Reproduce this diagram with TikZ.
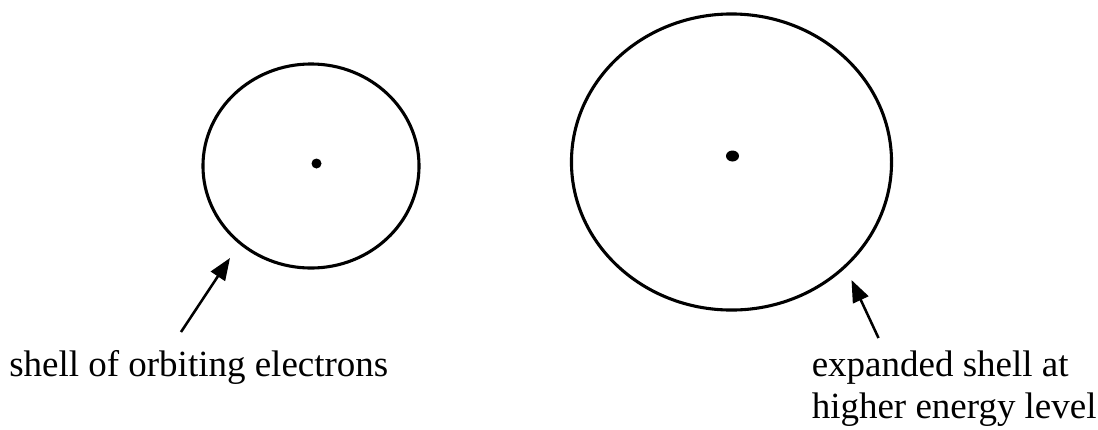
\documentclass[tikz,border=0pt]{standalone}
\usepackage{fontspec}
\setmainfont{Liberation Serif}
\usetikzlibrary{arrows.meta, shapes.geometric}

\begin{document}
\begin{tikzpicture}[x=0.025cm, y=-0.025cm, >={Triangle[length=0.55cm, width=0.42cm]},
    shell/.style={draw, ellipse, line width=2.2pt, inner sep=0pt},
    pointer/.style={->, line width=1.8pt},
    every node/.style={font=\fontsize{26.3}{29.6}\selectfont}]
  \useasboundingbox (0,0) rectangle (1098,429);

  % ground state shell
  \node[shell, minimum width=5.4cm, minimum height=5.1cm] (inner) at (311,166) {};
  \fill (316.5,163.5) circle (5);

  % excited shell
  \node[shell, minimum width=8cm, minimum height=7.4cm] (outer) at (731.5,162) {};
  \fill (732.5,156) ellipse (6.5 and 5.5);

  % labels
  \node[anchor=base west, inner sep=0pt] (lblinner) at (9,376.7) {shell of orbiting electrons};
  \node[anchor=base west, inner sep=0pt, align=left] (lblouter) at (811.5,418.3)
    {expanded shell at\\higher energy level};

  % pointers
  \coordinate (tailinner) at (181,332);
  \coordinate (tipinner) at (230,258);
  \coordinate (tailouter) at (878.5,338);
  \coordinate (tipouter) at (851.5,280);
  \draw[pointer] (tailinner) -- (tipinner);
  \draw[pointer] (tailouter) -- (tipouter);
\end{tikzpicture}
\end{document}
